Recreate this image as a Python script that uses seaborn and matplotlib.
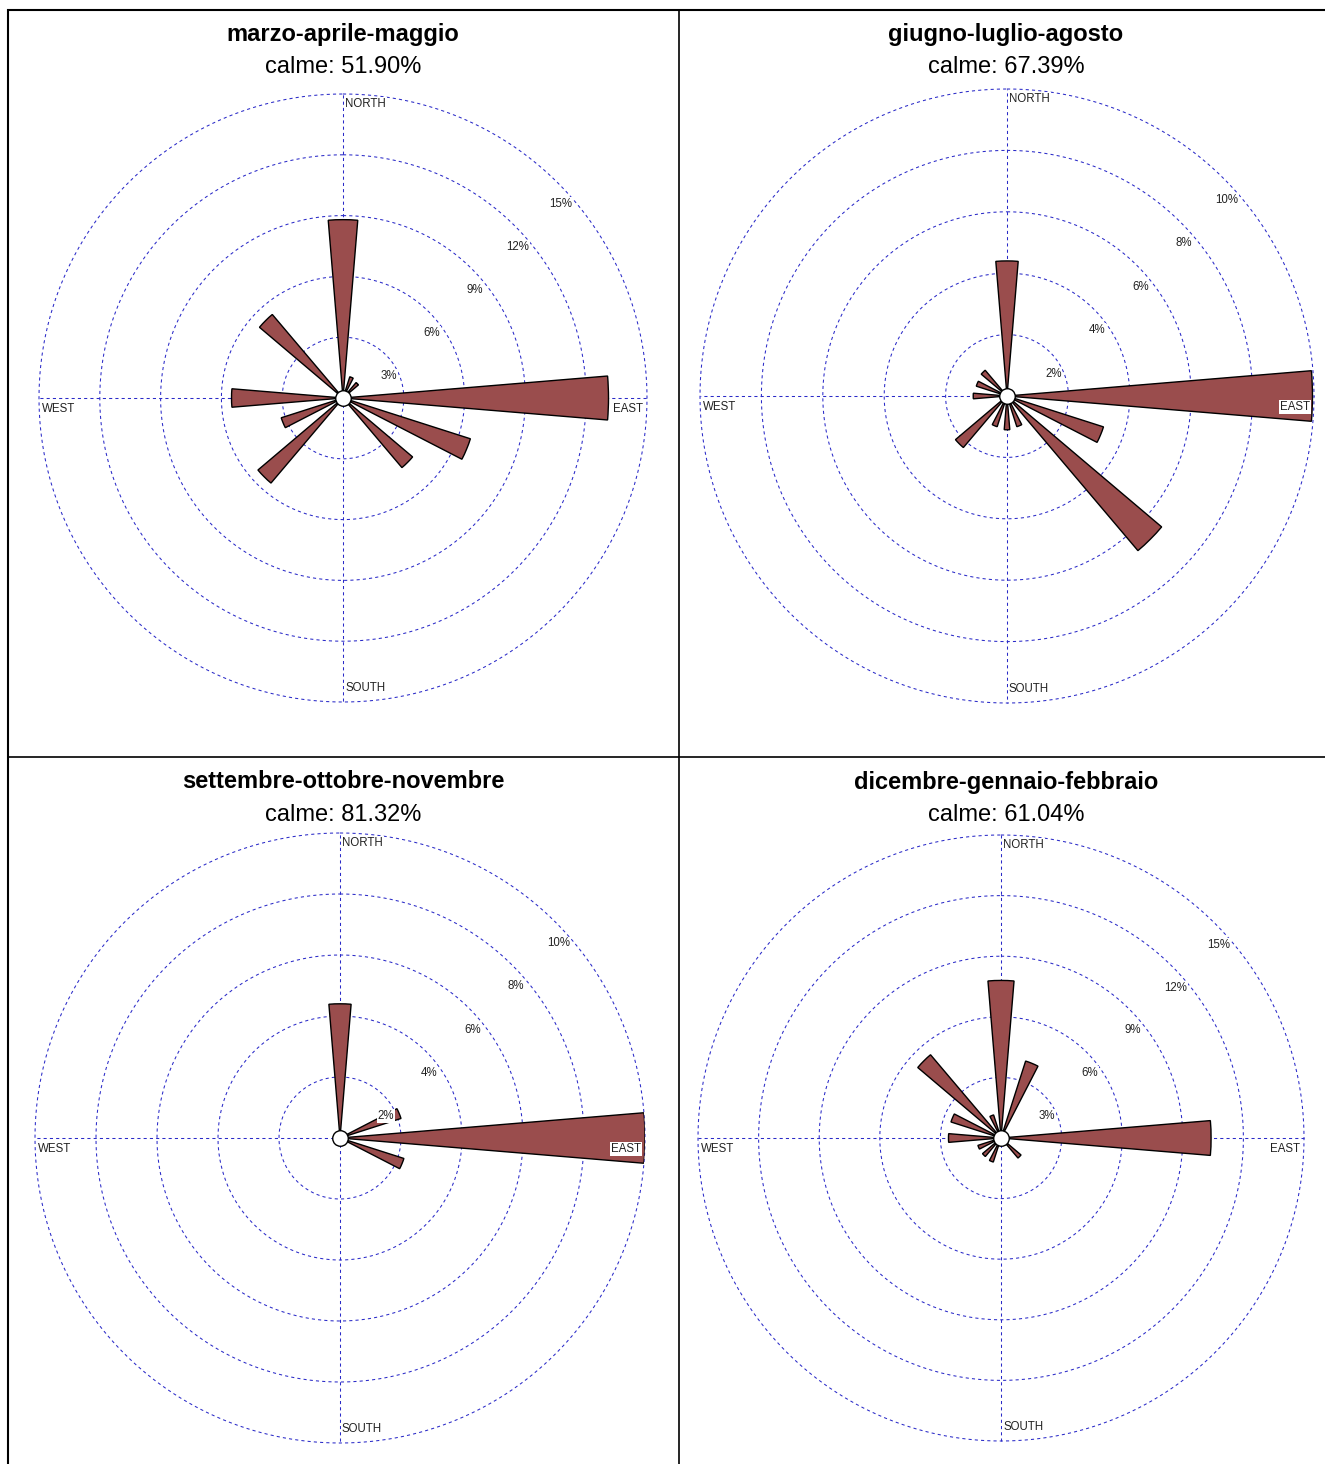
import numpy as np
import pandas as pd
import matplotlib
matplotlib.use("Agg")
import matplotlib.pyplot as plt
from matplotlib.lines import Line2D
import seaborn as sns

# ---- data -------------------------------------------------------------
directions = ["N", "NNE", "NE", "ENE", "E", "ESE", "SE", "SSE",
              "S", "SSW", "SW", "WSW", "W", "WNW", "NW", "NNW"]
seasons = ["marzo-aprile-maggio", "giugno-luglio-agosto",
           "settembre-ottobre-novembre", "dicembre-gennaio-febbraio"]
calms = [51.90, 67.39, 81.32, 61.04]

freq_mam = [8.8, 1.1, 1.0, 0, 13.1, 6.6, 4.5, 0, 0, 0, 5.5, 3.2, 5.5, 0, 5.4, 0]
freq_jja = [4.4, 0, 0, 0, 9.95, 3.3, 6.6, 1.05, 1.1, 1.05, 2.2, 0, 1.1, 1.05, 1.1, 0]
freq_son = [4.4, 0, 0, 2.1, 10.0, 2.2, 0, 0, 0, 0, 0, 0, 0, 0, 0, 0]
freq_djf = [7.8, 4.0, 0, 0, 10.4, 0, 1.3, 0, 0, 1.25, 1.2, 1.2, 2.6, 2.6, 5.4, 1.2]

rings_mam = [3, 6, 9, 12, 15]
rings_jja = [2, 4, 6, 8, 10]
rings_son = [2, 4, 6, 8, 10]
rings_djf = [3, 6, 9, 12, 15]

freqs = [freq_mam, freq_jja, freq_son, freq_djf]
rings = [rings_mam, rings_jja, rings_son, rings_djf]

df = pd.concat(
    [pd.DataFrame({"stagione": s, "direzione": directions,
                   "angolo": np.arange(16) * 22.5, "freq": f})
     for s, f in zip(seasons, freqs)],
    ignore_index=True)

# ---- layout (pixels) --------------------------------------------------
W, H = 1325, 1464
panel_geom = {            # centre x, centre y, outer ring radius
    seasons[0]: (343, 398, 304),
    seasons[1]: (1007, 396, 307),
    seasons[2]: (340, 1138, 305),
    seasons[3]: (1001, 1138, 303),
}
title_pos = {
    seasons[0]: (343, 34), seasons[1]: (1006, 34),
    seasons[2]: (343, 782), seasons[3]: (1006, 782),
}

GRID = "#2a2ac8"
BAR = "#9a4d4d"
WEDGE = np.deg2rad(9.5)

sns.set_theme(style="white")
plt.rcParams["font.family"] = ["Liberation Sans", "DejaVu Sans"]


def draw_rose(data, **kws):
    ax = plt.gca()
    season = data["stagione"].iloc[0]
    idx = seasons.index(season)
    rr = rings[idx]
    rmax = rr[-1]

    ax.set_theta_zero_location("N")
    ax.set_theta_direction(-1)
    ax.set_ylim(0, rmax)
    ax.grid(False)
    ax.set_xticks([])
    ax.set_yticks([])
    for sp in ax.spines.values():
        sp.set_visible(False)
    ax.patch.set_alpha(0)

    # dashed rings and cross
    th = np.linspace(0, 2 * np.pi, 721)
    for r in rr:
        ax.plot(th, np.full_like(th, r), color=GRID, lw=0.75,
                ls=(0, (3, 3)), zorder=1, clip_on=False)
    for a in (0, 90, 180, 270):
        t = np.deg2rad(a)
        ax.plot([t, t], [0, rmax], color=GRID, lw=0.75,
                ls=(0, (3, 3)), zorder=1, clip_on=False)

    # petals
    d = data[data["freq"] > 0]
    ax.bar(np.deg2rad(d["angolo"].to_numpy()), d["freq"].to_numpy(),
           width=WEDGE, bottom=0, color=BAR, edgecolor="black",
           linewidth=1.0, zorder=3, align="center")

    # centre circle
    ax.plot([0], [0], "o", ms=11.2, mfc="white", mec="black", mew=1.0,
            zorder=5, clip_on=False)

    box = dict(facecolor="white", edgecolor="none", pad=0.6)
    fs = 8.3
    # ring labels along the NE direction
    for r in rr:
        ax.annotate(f"{r}%", xy=(np.deg2rad(45), r), xytext=(3, -21),
                    textcoords="offset pixels", ha="center", va="center",
                    fontsize=fs, color="#222222", bbox=box, zorder=6,
                    annotation_clip=False)
    # compass labels
    ax.annotate("NORTH", xy=(0, rmax), xytext=(2, -4),
                textcoords="offset pixels", ha="left", va="top",
                fontsize=fs, color="#222222", bbox=box, zorder=6,
                annotation_clip=False)
    ax.annotate("SOUTH", xy=(np.pi, rmax), xytext=(2, 11),
                textcoords="offset pixels", ha="left", va="baseline",
                fontsize=fs, color="#222222", bbox=box, zorder=6,
                annotation_clip=False)
    ax.annotate("WEST", xy=(1.5 * np.pi, rmax), xytext=(3, -5),
                textcoords="offset pixels", ha="left", va="top",
                fontsize=fs, color="#222222", bbox=box, zorder=6,
                annotation_clip=False)
    ax.annotate("EAST", xy=(0.5 * np.pi, rmax), xytext=(-4, -5),
                textcoords="offset pixels", ha="right", va="top",
                fontsize=fs, color="#222222", bbox=box, zorder=6,
                annotation_clip=False)


g = sns.FacetGrid(df, col="stagione", col_wrap=2, col_order=seasons,
                  subplot_kws=dict(projection="polar"),
                  sharex=False, sharey=False, despine=False, height=5)
g.map_dataframe(draw_rose)
g.set_titles("")
g.set_axis_labels("", "")

fig = g.figure
fig.set_size_inches(W / 100, H / 100)
fig.patch.set_facecolor("white")

for season, ax in g.axes_dict.items():
    cx, cy, R = panel_geom[season]
    ax.set_position([(cx - R) / W, 1 - (cy + R) / H, 2 * R / W, 2 * R / H])
    tx, ty = title_pos[season]
    i = seasons.index(season)
    fig.text(tx / W, 1 - ty / H, season, ha="center", va="center",
             fontsize=17, fontweight="bold", color="black")
    fig.text(tx / W, 1 - (ty + 33) / H, f"calme: {calms[i]:.2f}%",
             ha="center", va="center", fontsize=17, color="black")


def fline(x0, y0, x1, y1, lw=1.5):
    fig.add_artist(Line2D([x0 / W, x1 / W], [1 - y0 / H, 1 - y1 / H],
                          transform=fig.transFigure, color="black",
                          lw=lw, solid_capstyle="butt"))


# panel frame
fline(7, 10, W, 10)
fline(8, 9, 8, H)
fline(679, 10, 679, H, lw=1.2)
fline(8, 757, W, 757, lw=1.2)

fig.savefig("out.png", dpi=100, facecolor="white")
